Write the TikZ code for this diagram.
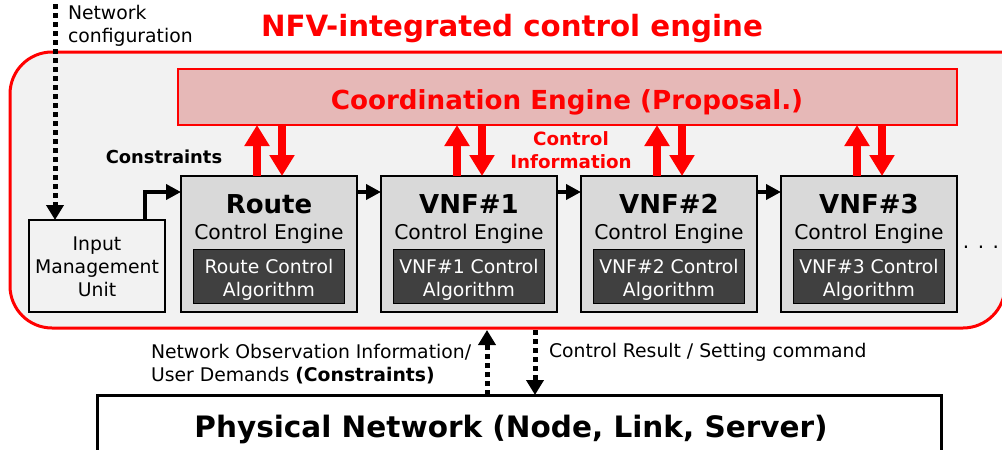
\documentclass[tikz,border=0pt]{standalone}
\usepackage{fontspec}
\setmainfont{DejaVu Sans}
\usetikzlibrary{arrows.meta,calc}

\definecolor{nfvred}{HTML}{FF0000}
\definecolor{framefill}{HTML}{F2F2F2}
\definecolor{coordfill}{HTML}{E6B8B7}
\definecolor{engfill}{HTML}{D9D9D9}
\definecolor{algfill}{HTML}{404040}

\newcommand\sizedfont[2]{\fontsize{#1pt}{#2pt}\selectfont}

% one control engine block: name, left x, title, algorithm prefix
\newcommand\engineunit[4]{%
  \node[engbox] (#1) at (#2,176) {};
  \node[titletext] (#1-t) at (#2+88,213) {#3};
  \node[subtext] (#1-s) at (#2+88,239) {Control Engine};
  \node[algbox] (#1-a) at (#2+12,249) {};
  \node[algtext] (#1-at) at (#2+88,296) {#4 Control\\Algorithm};
}

\begin{document}
\begin{tikzpicture}[x=1pt,y=-1pt,
  every node/.style={inner sep=0pt, outer sep=0pt},
  engbox/.style={draw=black, line width=2.5pt, fill=engfill,
    minimum width=176pt, minimum height=136pt, anchor=north west},
  algbox/.style={draw=black, line width=1pt, fill=algfill,
    minimum width=151pt, minimum height=54pt, anchor=north west},
  algtext/.style={text=white, anchor=base, align=center,
    font=\sizedfont{18.8}{23}},
  titletext/.style={anchor=base, font=\sizedfont{26}{30}\bfseries},
  subtext/.style={anchor=base, font=\sizedfont{20.3}{24}},
  smalltext/.style={font=\sizedfont{18.8}{23}},
  redtext/.style={text=nfvred, font=\sizedfont{18.3}{22.5}\bfseries},
  redup/.style={draw=nfvred, line width=8.5pt,
    -{Triangle[width=24pt,length=21pt]}},
  flow/.style={draw=black, line width=4pt,
    -{Triangle[width=15pt,length=15pt]}},
  dotflow/.style={draw=black, line width=5pt, dash pattern=on 5pt off 4pt,
    -{Triangle[width=17pt,length=15pt]}},
]
\useasboundingbox (0,0) rectangle (1002,450);

% outer frame of the control engine
\path[fill=framefill, draw=nfvred, line width=3pt, rounded corners=42pt]
  (1040,52) -- (10,52) -- (10,328) -- (1005,328) -- (1005,52);

\node[anchor=base, text=nfvred, font=\sizedfont{29.3}{34}\bfseries] (title)
  at (512,36) {NFV-integrated control engine};

% coordination engine
\node[draw=nfvred, line width=2pt, fill=coordfill, anchor=north west,
  minimum width=779pt, minimum height=56pt] (coord) at (178,69) {};
\node[anchor=base, text=nfvred, font=\sizedfont{26.2}{30}\bfseries] (coord-t)
  at (567,109) {Coordination Engine (Proposal.)};

% control engines
\engineunit{route}{181}{Route}{Route}
\engineunit{vnf1}{381}{VNF\#1}{VNF\#1}
\engineunit{vnf2}{581}{VNF\#2}{VNF\#2}
\engineunit{vnf3}{781}{VNF\#3}{VNF\#3}

\node[anchor=base, font=\sizedfont{20}{23}] (more) at (981,248) {. . .};

% input management unit
\node[draw=black, line width=2.5pt, fill=framefill, anchor=north west,
  minimum width=136pt, minimum height=92pt] (input) at (29,220) {};
\node[smalltext, anchor=base, align=center] (input-t) at (97,296)
  {Input\\Management\\Unit};

% control information exchange with the coordination engine
\foreach \n in {route,vnf1,vnf2,vnf3} {
  \coordinate (\n-up) at ($(\n.north west)+(76,0)$);
  \coordinate (\n-dn) at ($(\n.north west)+(101,0)$);
  \draw[redup] (\n-up) -- (\n-up |- coord.south);
  \draw[redup] (\n-dn |- coord.south) -- (\n-dn);
}

\node[anchor=base, font=\sizedfont{17.9}{23}\bfseries] (cons) at (164,163)
  {Constraints};
\node[redtext, anchor=base, align=center] (ctrlinfo) at (571,168)
  {Control\\Information};

% processing chain
\draw[flow] ($(input.north east)+(-20,0)$) |- ($(route.north west)+(0,16)$);
\draw[flow] ($(route.north east)+(0,16)$) -- ($(vnf1.north west)+(0,16)$);
\draw[flow] ($(vnf1.north east)+(0,16)$) -- ($(vnf2.north west)+(0,16)$);
\draw[flow] ($(vnf2.north east)+(0,16)$) -- ($(vnf3.north west)+(0,16)$);

% network configuration input
\coordinate (netcfg) at (55,4);
\draw[dotflow] (netcfg) -- (netcfg |- input.north);
\node[smalltext, anchor=base west, align=left] (netcfg-t) at (68,42)
  {Network\\configuration};

% physical network
\node[draw=black, line width=3pt, fill=white, anchor=north west,
  minimum width=844pt, minimum height=70pt] (phys) at (97,395) {};
\node[anchor=base, font=\sizedfont{29.5}{34}\bfseries] (phys-t) at (511,437)
  {Physical Network (Node, Link, Server)};

\coordinate (obs) at (487,330);
\coordinate (cmd) at (535,330);
\draw[dotflow] (obs |- phys.north) -- (obs);
\draw[dotflow] (cmd) -- (cmd |- phys.north);

\node[smalltext, anchor=base west, align=left] (obs-t) at (151,381)
  {Network Observation Information/\\User Demands \textbf{(Constraints)}};
\node[smalltext, anchor=base west] (cmd-t) at (549,357)
  {Control Result / Setting command};
\end{tikzpicture}
\end{document}
